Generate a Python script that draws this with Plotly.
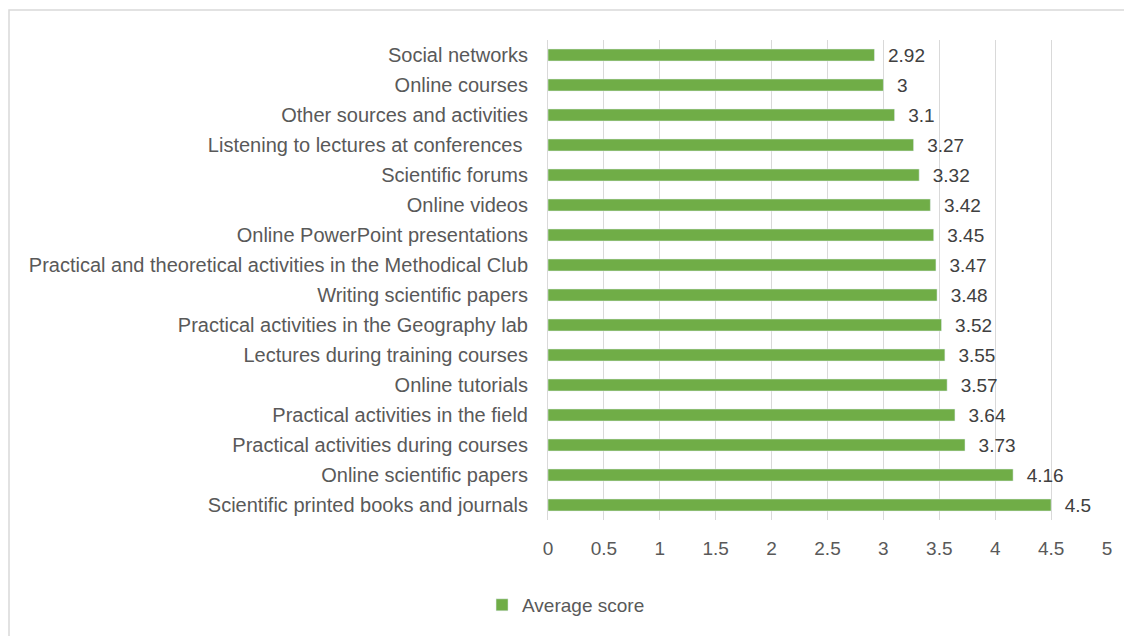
import plotly.graph_objects as go

categories = [
    "Social networks",
    "Online courses",
    "Other sources and activities",
    "Listening to lectures at conferences ",
    "Scientific forums",
    "Online videos",
    "Online PowerPoint presentations",
    "Practical and theoretical activities in the Methodical Club",
    "Writing scientific papers",
    "Practical activities in the Geography lab",
    "Lectures during training courses",
    "Online tutorials",
    "Practical activities in the field",
    "Practical activities during courses",
    "Online scientific papers",
    "Scientific printed books and journals",
]
values = [2.92, 3, 3.1, 3.27, 3.32, 3.42, 3.45, 3.47, 3.48, 3.52, 3.55, 3.57, 3.64, 3.73, 4.16, 4.5]
labels = ["2.92", "3", "3.1", "3.27", "3.32", "3.42", "3.45", "3.47", "3.48", "3.52", "3.55", "3.57", "3.64", "3.73", "4.16", "4.5"]
tick_vals = [0, 0.5, 1, 1.5, 2, 2.5, 3, 3.5, 4, 4.5, 5]
tick_text = ["0", "0.5", "1", "1.5", "2", "2.5", "3", "3.5", "4", "4.5", "5"]

FONT = "Liberation Sans"

# page body has an 8px margin, so the figure is sized to fit the window
W, H = 1124, 628
L, R, T, B = 540, 25, 32, 116
PW = W - L - R
PH = H - T - B

fig = go.Figure()
fig.add_trace(go.Bar(
    y=categories,
    x=values,
    orientation="h",
    name="Average score",
    marker=dict(color="#70AD47"),
    text=labels,
    texttemplate="  %{text}",
    textposition="outside",
    constraintext="none",
    textfont=dict(family=FONT, size=19, color="#404040"),
    cliponaxis=False,
))

fig.update_layout(
    width=W,
    height=H,
    paper_bgcolor="white",
    plot_bgcolor="white",
    margin=dict(l=L, r=R, t=T, b=B),
    bargap=0.6,
    font=dict(family=FONT, size=19, color="#595959"),
    xaxis=dict(
        range=[0, 5],
        tickvals=tick_vals,
        ticktext=tick_text,
        showgrid=True,
        gridcolor="#D9D9D9",
        gridwidth=1,
        zeroline=False,
        showline=False,
        ticks="",
        ticklabelstandoff=15,
        automargin=False,
        tickfont=dict(family=FONT, size=19, color="#595959"),
    ),
    yaxis=dict(
        autorange="reversed",
        showgrid=False,
        zeroline=False,
        showline=True,
        linecolor="#D9D9D9",
        linewidth=1,
        ticks="",
        ticklabelstandoff=15,
        automargin=False,
        tickfont=dict(family=FONT, size=20, color="#595959"),
    ),
    showlegend=True,
    legend=dict(
        orientation="h",
        x=-0.118,
        xanchor="left",
        y=-0.177,
        yanchor="middle",
        font=dict(family=FONT, size=19, color="#595959"),
        itemwidth=30,
    ),
)

fig.add_shape(
    type="rect", xref="paper", yref="paper",
    x0=(1 - L) / PW, x1=(W - 7 - L) / PW,
    y0=(H - B - H - 10) / PH, y1=(H - B - 2) / PH,
    line=dict(color="#D9D9D9", width=1.5),
    fillcolor="rgba(0,0,0,0)",
    layer="below",
)

fig.write_html("out.html")
